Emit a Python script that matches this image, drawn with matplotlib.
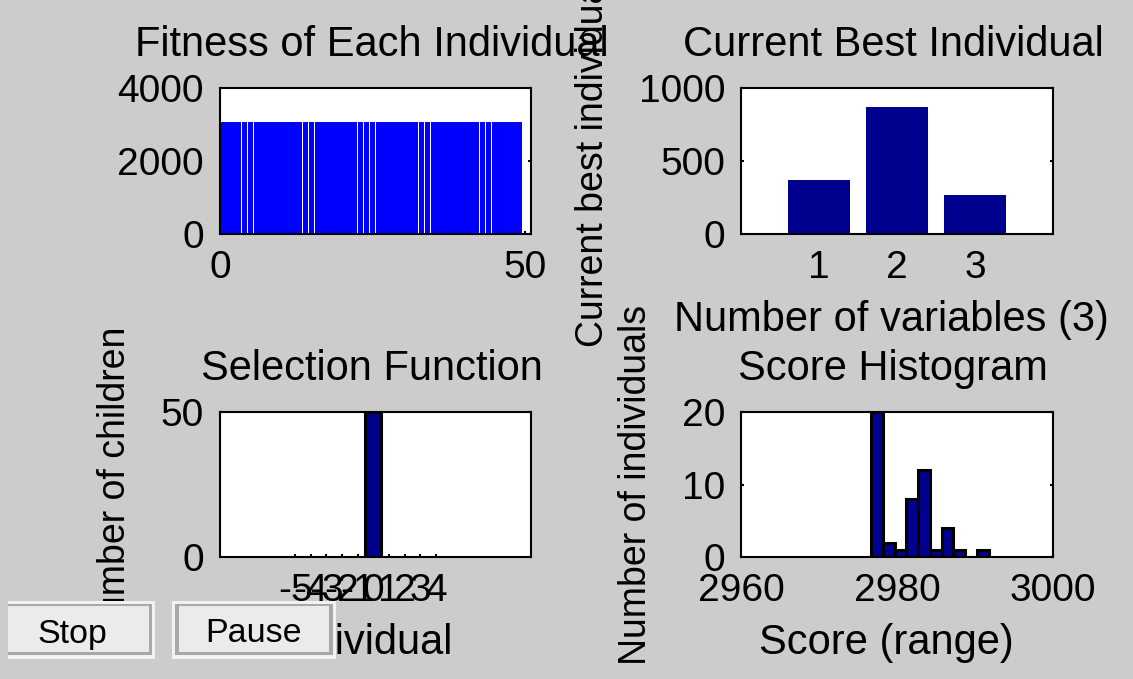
import matplotlib.pyplot as plt
from matplotlib.patches import Rectangle

plt.rcParams['font.family'] = ['Liberation Sans', 'DejaVu Sans']
plt.rcParams['axes.unicode_minus'] = False

# ---- data ----
# fitness of each individual (population of 50)
fitness = [3060, 3060, 3060, 3060, 3060, 3060, 3060, 3060, 3060, 3060,
           3060, 3060, 3060, 3060, 3060, 3060, 3060, 3060, 3060, 3060,
           3060, 3060, 3060, 3060, 3060, 3060, 3060, 3060, 3060, 3060,
           3060, 3060, 3060, 3060, 3060, 3060, 3060, 3060, 3060, 3060,
           3060, 3060, 3060, 3060, 3060, 3060, 3060, 3060, 3060, 3060]

# current best individual
best_vars = [1, 2, 3]
best_values = [368, 868, 265]

# selection function
sel_ticks = [-5, -4, -3, -2, -1, 0, 1, 2, 3, 4]
sel_individual = [0]
sel_children = [50]

# score histogram
hist_centers = [2977.44, 2978.95, 2980.45, 2981.96, 2983.47,
                2984.97, 2986.48, 2987.99, 2989.49, 2991.00]
hist_counts = [20, 2, 1, 8, 12, 1, 4, 1, 0, 1]
hist_binwidth = 1.507

BG = '#cccccc'
NAVY = '#00008f'
W, H = 1133, 679
TICK_FS = 28
LABEL_FS = 30
YLABEL_FS = 27

fig = plt.figure(figsize=(W / 100, H / 100), dpi=100, facecolor=BG)


def px_axes(left, top, right, bottom):
    ax = fig.add_axes([left / W, 1 - bottom / H, (right - left) / W, (bottom - top) / H])
    ax.set_facecolor('white')
    for sp in ax.spines.values():
        sp.set_linewidth(1.5)
        sp.set_color('black')
    ax.set_axisbelow(True)
    ax.tick_params(direction='in', length=2.5, width=1.5, labelsize=TICK_FS,
                   pad=11.5, left=True, right=True, bottom=True, top=False)
    return ax


def labels(ax, title, xlabel=None, ylabel=None, xshift=0):
    # MATLAB centres its text a few pixels left of the axes centre
    ax.set_title(title, fontsize=LABEL_FS, pad=23, x=0.5 - 4 / 312)
    if xlabel:
        ax.set_xlabel(xlabel, fontsize=LABEL_FS, labelpad=10)
        ax.xaxis.label.set_x(0.5 - xshift / 312)
    if ylabel:
        ax.set_ylabel(ylabel, fontsize=YLABEL_FS, labelpad=20)


# ---- Fitness of Each Individual ----
ax1 = px_axes(220, 87.7, 531.3, 233.7)
ax1.bar(range(len(fitness)), fitness, width=0.945, color='#0000ff',
        linewidth=0, antialiased=False)
ax1.set_xlim(0, 51)
ax1.set_ylim(0, 4000)
ax1.set_xticks([0, 50])
ax1.set_yticks([0, 2000, 4000])
labels(ax1, 'Fitness of Each Individual')

# ---- Current Best Individual ----
ax2 = px_axes(741, 87.7, 1053, 233.7)
ax2.bar(best_vars, best_values, width=0.8, color=NAVY, linewidth=0)
ax2.set_xlim(0, 4)
ax2.set_ylim(0, 1000)
ax2.set_xticks(best_vars)
ax2.set_yticks([0, 500, 1000])
labels(ax2, 'Current Best Individual',
       'Number of variables (%d)' % len(best_vars), 'Current best individual', xshift=6)

# ---- Selection Function ----
ax3 = px_axes(220, 412.3, 531.3, 557)
ax3.bar(sel_individual, sel_children, width=1.0, color=NAVY,
        edgecolor='black', linewidth=2.2)
ax3.set_xlim(-9.8, 10.1)
ax3.set_ylim(0, 50)
ax3.set_xticks(sel_ticks)
ax3.set_xticklabels([str(t) for t in sel_ticks])
ax3.set_yticks([0, 50])
labels(ax3, 'Selection Function', 'Individual', 'Number of children', xshift=11)

# ---- Score Histogram ----
ax4 = px_axes(741, 412.3, 1053, 557)
ax4.bar(hist_centers, hist_counts, width=hist_binwidth, color=NAVY,
        edgecolor='black', linewidth=2.2)
ax4.set_xlim(2960, 3000)
ax4.set_ylim(0, 20)
ax4.set_xticks([2960, 2980, 3000])
ax4.set_yticks([0, 10, 20])
labels(ax4, 'Score Histogram', 'Score (range)', 'Number of individuals', xshift=11)


# ---- Stop / Pause buttons (drawn over the figure) ----
def px_rect(x0, y0, x1, y1, color):
    fig.add_artist(Rectangle((x0 / W, 1 - y1 / H), (x1 - x0) / W, (y1 - y0) / H,
                             transform=fig.transFigure, facecolor=color,
                             edgecolor='none', zorder=10))


def button(outer, dark, face, label, cx, cy):
    px_rect(*outer, '#f2f2f2')
    px_rect(*dark, '#a8a8a8')
    px_rect(*face, '#ebebeb')
    fig.text(cx / W, 1 - cy / H, label, fontsize=24.5, ha='center', va='center',
             color='black', zorder=11)


button((8, 601, 155, 659), (8, 604, 152, 655), (8, 606, 149, 652), 'Stop', 72.5, 634)
button((172, 601, 336, 659), (175, 604, 333, 655), (179, 606, 329, 652), 'Pause', 253.5, 633)

fig.savefig('out.png', dpi=100, facecolor=BG)
